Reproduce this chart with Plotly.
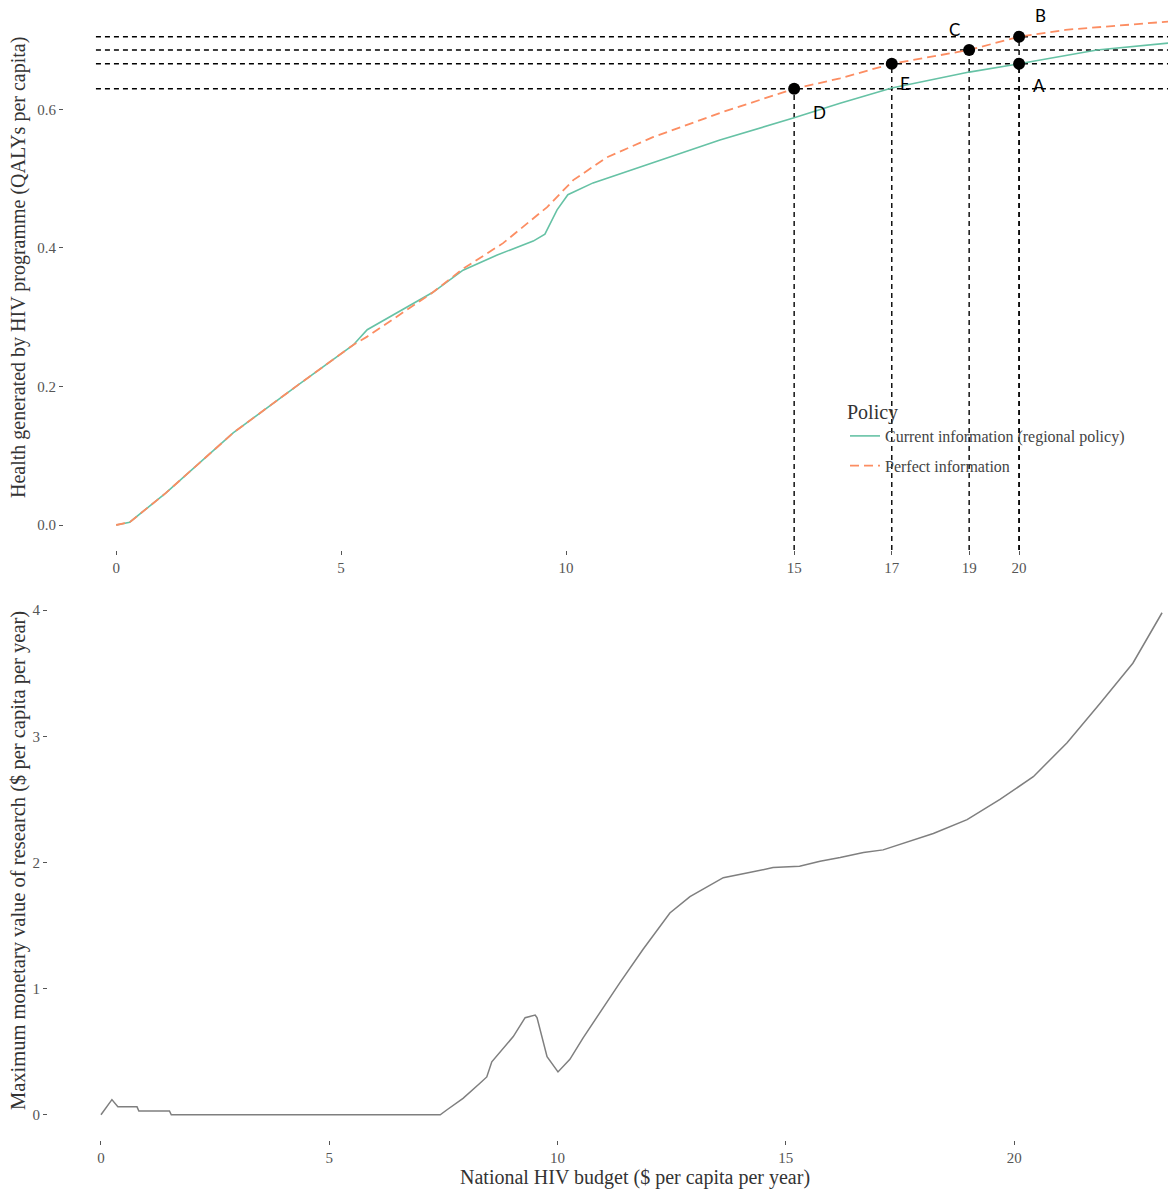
import plotly.graph_objects as go

# ---------------- data ----------------
# Top panel: health generated vs budget
cur_x = [0, 0.3, 1.1, 2.6, 4.1, 5.27, 5.58, 7.04, 7.71, 8.47, 9.27, 9.53, 9.8, 10.04,
         10.6, 11.93, 13.42, 15.07, 16.09, 17.24, 18.96, 20.07, 21.8, 23.4]
cur_y = [0, 0.004, 0.046, 0.133, 0.205, 0.26, 0.282, 0.336, 0.368, 0.39, 0.41, 0.42,
         0.455, 0.477, 0.494, 0.523, 0.556, 0.588, 0.609, 0.631, 0.654, 0.666, 0.686, 0.696]

perf_x = [0, 0.3, 1.1, 2.6, 4.1, 5.27, 5.58, 7.04, 7.71, 8.6, 9.58, 10.16, 10.91,
          11.93, 13.42, 15.07, 16.09, 17.24, 18.96, 20.07, 21.1, 23.4]
perf_y = [0, 0.004, 0.046, 0.133, 0.205, 0.26, 0.272, 0.336, 0.37, 0.407, 0.459,
          0.498, 0.531, 0.56, 0.595, 0.630, 0.645, 0.666, 0.686, 0.705, 0.715, 0.727]

pt_labels = ["D", "E", "C", "B", "A"]
pt_x = [15.07, 17.24, 18.96, 20.07, 20.07]
pt_y = [0.630, 0.666, 0.686, 0.705, 0.666]

top_tickvals = [0, 5, 10, 15.07, 17.24, 18.96, 20.07]
top_ticktext = ["0", "5", "10", "15", "17", "19", "20"]

# Bottom panel: maximum monetary value of research
mv_x = [0, 0.24, 0.37, 0.79, 0.83, 1.5, 1.54, 7.43, 7.58, 7.93, 8.3, 8.45, 8.56, 9.03,
        9.29, 9.51, 9.55, 9.77, 10.01, 10.27, 10.56, 10.93, 11.1, 11.37, 11.87, 12.46,
        12.9, 13.63, 14.2, 14.72, 15.3, 15.75, 16.19, 16.7, 17.13, 17.87, 18.23, 18.97,
        19.69, 20.42, 21.16, 21.88, 22.6, 23.24]
mv_y = [0, 0.12, 0.063, 0.063, 0.03, 0.03, 0, 0, 0.04, 0.13, 0.25, 0.3, 0.42, 0.62,
        0.77, 0.79, 0.77, 0.46, 0.34, 0.44, 0.61, 0.81, 0.91, 1.05, 1.31, 1.6, 1.73,
        1.88, 1.92, 1.96, 1.97, 2.01, 2.04, 2.08, 2.1, 2.19, 2.23, 2.34, 2.5, 2.68,
        2.95, 3.26, 3.58, 3.98]

# ---------------- styling ----------------
W, H = 1168, 1191
SERIF = "Liberation Serif"
TICKC = "#555555"
TITLEC = "#333333"
GREEN = "#66c2a5"
ORANGE = "#fc8d62"

TOP_XR = [-1.16, 23.38]
TOP_YR = [-0.0361, 0.7581]
BOT_XR = [-1.16, 23.37]
BOT_YR = [-0.2, 4.2]
HLINE_START = -0.45

fig = go.Figure()

# reference lines (horizontal)
for yv in sorted(set(pt_y)):
    fig.add_trace(go.Scatter(x=[HLINE_START, TOP_XR[1]], y=[yv, yv], mode="lines",
                             line=dict(color="black", width=1.4, dash="5px,4px"),
                             showlegend=False, hoverinfo="skip", xaxis="x", yaxis="y"))
# reference lines (vertical)
for xv, yv in zip(pt_x, pt_y):
    fig.add_trace(go.Scatter(x=[xv, xv], y=[TOP_YR[0], yv], mode="lines",
                             line=dict(color="black", width=1.4, dash="5px,4px"),
                             showlegend=False, hoverinfo="skip", xaxis="x", yaxis="y"))

fig.add_trace(go.Scatter(x=cur_x, y=cur_y, mode="lines", name="Current information (regional policy)",
                         line=dict(color=GREEN, width=1.6), legendgroup="a",
                         xaxis="x", yaxis="y"))
fig.add_trace(go.Scatter(x=perf_x, y=perf_y, mode="lines", name="Perfect information",
                         line=dict(color=ORANGE, width=1.8, dash="9px,5px"), legendgroup="b",
                         xaxis="x", yaxis="y"))

fig.add_trace(go.Scatter(x=pt_x, y=pt_y, mode="markers",
                         marker=dict(color="black", size=12),
                         showlegend=False, xaxis="x", yaxis="y"))

fig.add_trace(go.Scatter(x=mv_x, y=mv_y, mode="lines", line=dict(color="#7f7f7f", width=1.5),
                         showlegend=False, xaxis="x2", yaxis="y2"))

# point letters
offsets = {"D": (25, -24), "E": (13, -20), "C": (-15, 20), "B": (21, 21), "A": (20, -22)}
ann = []
for lab, xv, yv in zip(pt_labels, pt_x, pt_y):
    dx, dy = offsets[lab]
    ann.append(dict(x=xv, y=yv, xref="x", yref="y", text=lab, showarrow=False,
                    xshift=dx, yshift=dy, font=dict(family="Lato", size=17, color="black")))

# axis titles
TFS = 20
ann.append(dict(x=18 / W, y=1 - 268 / H, xref="paper", yref="paper", textangle=-90,
                xanchor="center", yanchor="middle",
                text="Health generated by HIV programme (QALYs per capita)", showarrow=False,
                font=dict(family=SERIF, size=TFS, color=TITLEC)))
ann.append(dict(x=18 / W, y=1 - 861 / H, xref="paper", yref="paper", textangle=-90,
                xanchor="center", yanchor="middle",
                text="Maximum monetary value of research ($ per capita per year)", showarrow=False,
                font=dict(family=SERIF, size=TFS + 0.5, color=TITLEC)))
ann.append(dict(x=635 / W, y=1 - 1177 / H, xref="paper", yref="paper",
                xanchor="center", yanchor="middle",
                text="National HIV budget ($ per capita per year)", showarrow=False,
                font=dict(family=SERIF, size=TFS, color=TITLEC)))

axis_common = dict(showgrid=False, zeroline=False, showline=False, ticks="outside",
                   ticklen=4, tickwidth=1, tickcolor=TICKC,
                   tickfont=dict(family=SERIF, size=15, color=TICKC))

fig.update_layout(
    width=W, height=H,
    margin=dict(l=0, r=0, t=0, b=0),
    paper_bgcolor="white", plot_bgcolor="white",
    xaxis=dict(domain=[64 / W, 1], range=TOP_XR, anchor="y",
               tickmode="array", tickvals=top_tickvals, ticktext=top_ticktext, **axis_common),
    yaxis=dict(domain=[1 - 550 / H, 1], range=TOP_YR, anchor="x",
               tickmode="array", tickvals=[0, 0.2, 0.4, 0.6],
               ticktext=["0.0", "0.2", "0.4", "0.6"], **axis_common),
    xaxis2=dict(domain=[48 / W, 1], range=BOT_XR, anchor="y2",
                tickmode="array", tickvals=[0, 5, 10, 15, 20], **axis_common),
    yaxis2=dict(domain=[1 - 1140 / H, 1 - 585 / H], range=BOT_YR, anchor="x2",
                tickmode="array", tickvals=[0, 1, 2, 3, 4], **axis_common),
    showlegend=True,
    legend=dict(x=845 / W, y=1 - 393 / H, xanchor="left", yanchor="top",
                bgcolor="rgba(0,0,0,0)", tracegroupgap=6,
                title=dict(text="Policy", font=dict(family=SERIF, size=20, color=TITLEC)),
                font=dict(family=SERIF, size=16, color="#444444")),
    annotations=ann,
)

fig.write_html("out.html", config={"displayModeBar": False},
               post_script="document.body.style.margin='0';document.body.style.overflow='hidden';")
